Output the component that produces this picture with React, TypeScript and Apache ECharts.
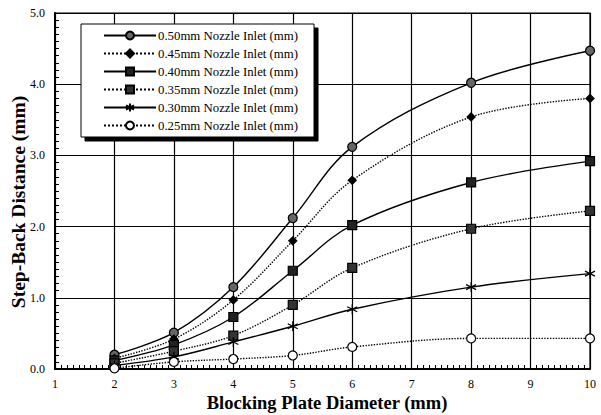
import React, { useEffect, useRef } from "react";
import * as echarts from "echarts";

const xValues = [2, 3, 4, 5, 6, 8, 10];
const seriesNames = [
  "0.50mm Nozzle Inlet (mm)",
  "0.45mm Nozzle Inlet (mm)",
  "0.40mm Nozzle Inlet (mm)",
  "0.35mm Nozzle Inlet (mm)",
  "0.30mm Nozzle Inlet (mm)",
  "0.25mm Nozzle Inlet (mm)",
];
const s050 = [0.2, 0.51, 1.15, 2.12, 3.12, 4.02, 4.47];
const s045 = [0.15, 0.42, 0.97, 1.8, 2.65, 3.54, 3.8];
const s040 = [0.12, 0.34, 0.73, 1.38, 2.02, 2.62, 2.92];
const s035 = [0.08, 0.25, 0.47, 0.9, 1.42, 1.97, 2.22];
const s030 = [0.05, 0.17, 0.38, 0.6, 0.84, 1.15, 1.34];
const s025 = [0.01, 0.1, 0.14, 0.19, 0.31, 0.43, 0.43];

const allSeries = [s050, s045, s040, s035, s030, s025];

const STAR = "path://M0,-10 L0,10 M-8.66,-5 L8.66,5 M-8.66,5 L8.66,-5";

export default function App() {
  const ref = useRef<HTMLDivElement>(null);
  useEffect(() => {
    if (!ref.current) return;
    const chart = echarts.init(ref.current, null, { renderer: "svg" });
    const serif = "Liberation Serif, Times New Roman, serif";
    const styles = [
      { type: "solid", symbol: "circle", size: 9, fill: "#666", border: "#000" },
      { type: "dotted", symbol: "diamond", size: 8, fill: "#000", border: "#000" },
      { type: "solid", symbol: "rect", size: 9, fill: "#222", border: "#000" },
      { type: "dotted", symbol: "rect", size: 9, fill: "#333", border: "#000" },
      { type: "solid", symbol: STAR, size: 10, fill: "none", border: "#000" },
      { type: "dotted", symbol: "circle", size: 9, fill: "#fff", border: "#000" },
    ];
    const series = allSeries.map((vals, i) => ({
      name: seriesNames[i],
      type: "line",
      smooth: 0.35,
      data: xValues.map((x, j) => [x, vals[j]]),
      symbol: styles[i].symbol,
      symbolSize: styles[i].size,
      showSymbol: true,
      lineStyle: { color: "#000", width: 1.4, type: styles[i].type },
      itemStyle: {
        color: styles[i].fill,
        borderColor: styles[i].border,
        borderWidth: 1.2,
        opacity: 1,
      },
      z: 3 + i,
    }));
    chart.setOption({
      animation: false,
      backgroundColor: "#fff",
      grid: {
        left: 55,
        right: 11,
        top: 13,
        bottom: 46,
        containLabel: false,
        outerBoundsMode: "none",
        show: true,
        borderColor: "#000",
        borderWidth: 1.2,
      },
      legend: {
        orient: "vertical",
        left: 81,
        top: 24,
        padding: [5, 16, 5, 22],
        itemWidth: 52,
        itemHeight: 10,
        itemGap: 5,
        backgroundColor: "#fff",
        borderColor: "#000",
        borderWidth: 1,
        shadowColor: "#000",
        shadowBlur: 0,
        shadowOffsetX: 4,
        shadowOffsetY: 4,
        textStyle: {
          fontFamily: serif,
          fontSize: 12.8,
          lineHeight: 12,
          color: "#000",
          padding: [0, 0, 0, -3],
        },
        data: seriesNames,
      },
      xAxis: {
        type: "value",
        min: 1,
        max: 10,
        interval: 1,
        name: "Blocking Plate Diameter (mm)",
        nameLocation: "middle",
        nameGap: 25,
        nameMoveOverlap: false,
        nameTextStyle: {
          fontFamily: serif,
          fontWeight: "bold",
          fontSize: 18.5,
          lineHeight: 18,
          color: "#000",
          padding: [0, 0, 0, 9],
        },
        axisLine: { lineStyle: { color: "#000", width: 2 } },
        axisTick: { show: true, inside: true, length: 1, lineStyle: { color: "#000", width: 1 } },
        minorTick: { show: true, splitNumber: 10, length: 4, lineStyle: { color: "#000", width: 1 } },
        axisLabel: { fontFamily: serif, fontSize: 12, lineHeight: 12, color: "#000", margin: 9 },
        splitLine: { show: true, lineStyle: { color: "#000", width: 1.2 } },
      },
      yAxis: {
        type: "value",
        min: 0,
        max: 5,
        interval: 1,
        name: "Step-Back Distance (mm)",
        nameLocation: "middle",
        nameGap: 27,
        nameMoveOverlap: false,
        nameTextStyle: {
          fontFamily: serif,
          fontWeight: "bold",
          fontSize: 19.5,
          lineHeight: 20,
          color: "#000",
          padding: [0, 22, 0, 0],
        },
        axisLine: { lineStyle: { color: "#000", width: 2 } },
        axisTick: { show: true, inside: true, length: 1, lineStyle: { color: "#000", width: 1 } },
        minorTick: { show: true, splitNumber: 10, length: 4, lineStyle: { color: "#000", width: 1 } },
        axisLabel: {
          fontFamily: serif,
          fontSize: 12,
          color: "#000",
          margin: 10,
          formatter: (v: number) => v.toFixed(1),
        },
        splitLine: { show: true, lineStyle: { color: "#000", width: 1.2 } },
      },
      series,
    });
    return () => chart.dispose();
  }, []);
  return <div ref={ref} style={{ width: 601, height: 415, position: "absolute", left: 0, top: 0 }} />;
}
